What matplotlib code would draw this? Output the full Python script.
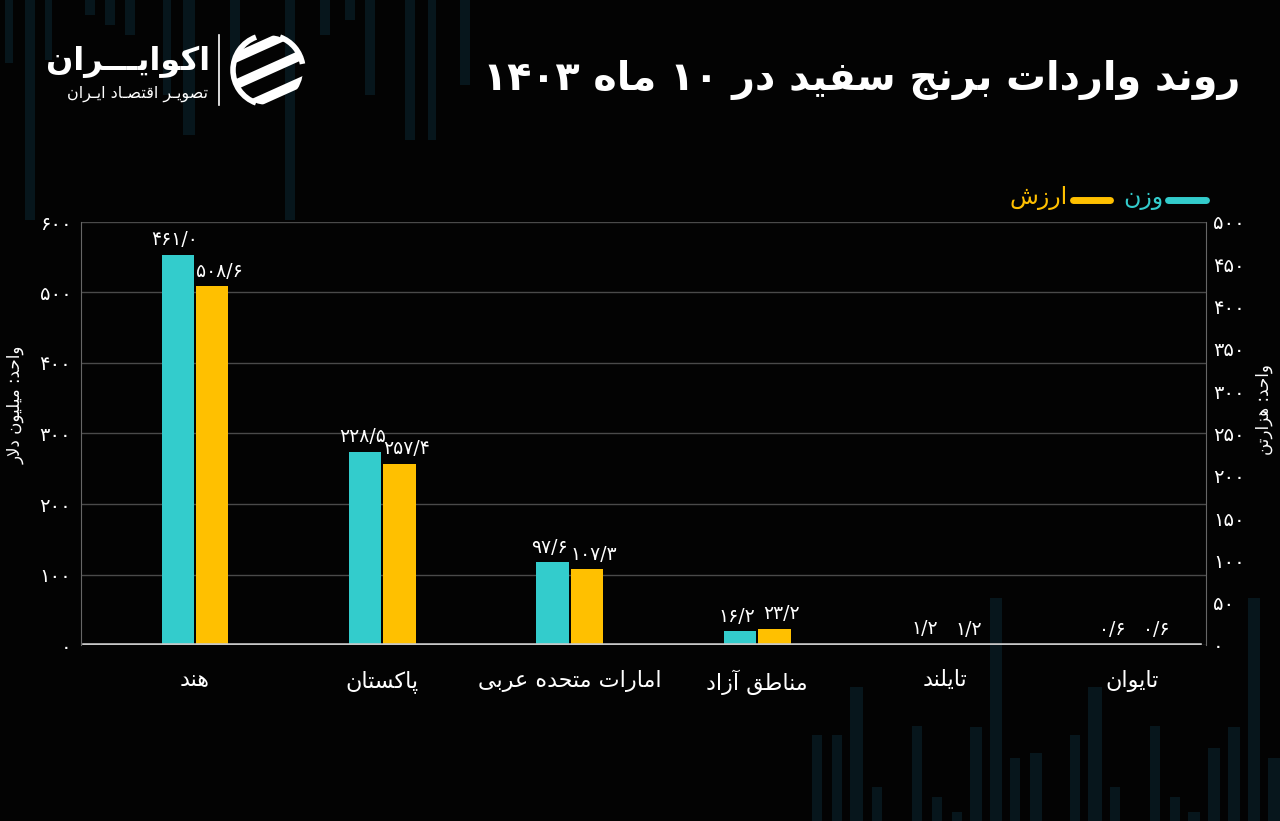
import matplotlib
matplotlib.use('Agg')
import matplotlib.pyplot as plt
from matplotlib.patches import Rectangle, Circle, Arc
import numpy as np

# ---------------- data ----------------
categories = ['هند', 'پاکستان', 'امارات متحده عربی', 'مناطق آزاد', 'تایلند', 'تایوان']
weight = [461.0, 228.5, 97.6, 16.2, 1.2, 0.6]     # هزار تن (right axis)
value = [508.6, 257.4, 107.3, 23.2, 1.2, 0.6]     # میلیون دلار (left axis)
left_ticks = [0, 100, 200, 300, 400, 500, 600]
right_ticks = [0, 50, 100, 150, 200, 250, 300, 350, 400, 450, 500]

title_text = 'روند واردات برنج سفید در 10 ماه 1403'
legend_weight = 'وزن'
legend_value = 'ارزش'
left_label = 'واحد: میلیون دلار'
right_label = 'واحد: هزارتن'
logo_main = 'اکوایـــران'
logo_sub = 'تصویـر اقتصـاد ایـران'

# decorative background stripes (pixel coords): (x, width, length)
deco_top = [(5, 8, 63), (25, 10, 220), (45, 7, 60), (85, 10, 15), (105, 10, 25),
            (125, 10, 35), (163, 8, 95), (183, 12, 135), (230, 10, 60), (285, 10, 220),
            (320, 10, 35), (345, 10, 20), (365, 10, 95), (405, 10, 140), (428, 8, 140),
            (460, 10, 85)]
deco_bot = [(812, 10, 735), (832, 10, 735), (850, 13, 687), (872, 10, 787), (912, 10, 726),
            (932, 10, 797), (952, 10, 812), (970, 12, 727), (990, 12, 598), (1010, 10, 758),
            (1030, 12, 753), (1070, 10, 735), (1088, 14, 687), (1110, 10, 787), (1150, 10, 726),
            (1170, 10, 797), (1188, 12, 812), (1208, 12, 748), (1228, 12, 727), (1248, 12, 598),
            (1268, 12, 758)]

CYAN = '#33CCCC'
GOLD = '#FFC000'
BG = '#030303'
DECO = '#07161c'

# ---------------- Arabic shaping ----------------
_F = {
    '\u0622': ('\uFE81', '\uFE82', None, None),
    '\u0627': ('\uFE8D', '\uFE8E', None, None),
    '\u0628': ('\uFE8F', '\uFE90', '\uFE91', '\uFE92'),
    '\u067E': ('\uFB56', '\uFB57', '\uFB58', '\uFB59'),
    '\u062A': ('\uFE95', '\uFE96', '\uFE97', '\uFE98'),
    '\u062B': ('\uFE99', '\uFE9A', '\uFE9B', '\uFE9C'),
    '\u062C': ('\uFE9D', '\uFE9E', '\uFE9F', '\uFEA0'),
    '\u0686': ('\uFB7A', '\uFB7B', '\uFB7C', '\uFB7D'),
    '\u062D': ('\uFEA1', '\uFEA2', '\uFEA3', '\uFEA4'),
    '\u062E': ('\uFEA5', '\uFEA6', '\uFEA7', '\uFEA8'),
    '\u062F': ('\uFEA9', '\uFEAA', None, None),
    '\u0630': ('\uFEAB', '\uFEAC', None, None),
    '\u0631': ('\uFEAD', '\uFEAE', None, None),
    '\u0632': ('\uFEAF', '\uFEB0', None, None),
    '\u0698': ('\uFB8A', '\uFB8B', None, None),
    '\u0633': ('\uFEB1', '\uFEB2', '\uFEB3', '\uFEB4'),
    '\u0634': ('\uFEB5', '\uFEB6', '\uFEB7', '\uFEB8'),
    '\u0635': ('\uFEB9', '\uFEBA', '\uFEBB', '\uFEBC'),
    '\u0636': ('\uFEBD', '\uFEBE', '\uFEBF', '\uFEC0'),
    '\u0637': ('\uFEC1', '\uFEC2', '\uFEC3', '\uFEC4'),
    '\u0638': ('\uFEC5', '\uFEC6', '\uFEC7', '\uFEC8'),
    '\u0639': ('\uFEC9', '\uFECA', '\uFECB', '\uFECC'),
    '\u063A': ('\uFECD', '\uFECE', '\uFECF', '\uFED0'),
    '\u0641': ('\uFED1', '\uFED2', '\uFED3', '\uFED4'),
    '\u0642': ('\uFED5', '\uFED6', '\uFED7', '\uFED8'),
    '\u06A9': ('\uFB8E', '\uFB8F', '\uFB90', '\uFB91'),
    '\u06AF': ('\uFB92', '\uFB93', '\uFB94', '\uFB95'),
    '\u0644': ('\uFEDD', '\uFEDE', '\uFEDF', '\uFEE0'),
    '\u0645': ('\uFEE1', '\uFEE2', '\uFEE3', '\uFEE4'),
    '\u0646': ('\uFEE5', '\uFEE6', '\uFEE7', '\uFEE8'),
    '\u0647': ('\uFEE9', '\uFEEA', '\uFEEB', '\uFEEC'),
    '\u0648': ('\uFEED', '\uFEEE', None, None),
    '\u06CC': ('\uFBFC', '\uFBFD', '\uFBFE', '\uFBFF'),
    '\u0640': ('\u0640', '\u0640', '\u0640', '\u0640'),
}
_LAMALEF = {'\u0627': ('\uFEFB', '\uFEFC'), '\u0622': ('\uFEF5', '\uFEF6')}
_DIG = str.maketrans('0123456789.', '۰۱۲۳۴۵۶۷۸۹/')
_DIGSET = set('0123456789۰۱۲۳۴۵۶۷۸۹٫./')


def _joins_next(ch):
    f = _F.get(ch)
    return f is not None and f[2] is not None


def fa(s):
    return str(s).translate(_DIG)


def shape(text):
    text = fa(text)
    chars = list(text)
    n = len(chars)
    out = []
    i = 0
    while i < n:
        c = chars[i]
        if c not in _F:
            out.append(c)
            i += 1
            continue
        prev = chars[i - 1] if i > 0 else ''
        jp = _joins_next(prev)
        if c == '\u0644' and i + 1 < n and chars[i + 1] in _LAMALEF:
            lig = _LAMALEF[chars[i + 1]]
            out.append(lig[1] if jp else lig[0])
            i += 2
            continue
        nxt = chars[i + 1] if i + 1 < n else ''
        jn = _joins_next(c) and (nxt in _F)
        f = _F[c]
        if jp and jn:
            g = f[3]
        elif jp:
            g = f[1]
        elif jn:
            g = f[2]
        else:
            g = f[0]
        out.append(g)
        i += 1
    tokens = []
    for ch in out:
        isd = ch in _DIGSET
        if tokens and tokens[-1][0] == isd:
            tokens[-1][1].append(ch)
        else:
            tokens.append([isd, [ch]])
    vis = []
    for isd, chs in reversed(tokens):
        vis.append(''.join(chs) if isd else ''.join(reversed(chs)))
    return ''.join(vis)


plt.rcParams['font.family'] = ['DejaVu Sans']

W, H = 1280, 821
fig = plt.figure(figsize=(12.8, 8.21), dpi=100, facecolor=BG)

# background axes in pixel coordinates
bg = fig.add_axes([0, 0, 1, 1], zorder=0)
bg.set_xlim(0, W)
bg.set_ylim(H, 0)
bg.axis('off')
bg.set_facecolor(BG)
for (x0, w0, ln) in deco_top:
    bg.add_patch(Rectangle((x0, 0), w0, ln, color=DECO, lw=0, zorder=0))
for (x0, w0, top) in deco_bot:
    bg.add_patch(Rectangle((x0, top), w0, H - top, color=DECO, lw=0, zorder=0))

# title
bg.text(1240, 80, shape(title_text), color='white', fontsize=28.5, fontweight='bold',
        ha='right', va='center')

# logo
bg.text(210, 62, shape(logo_main), color='white', fontsize=23, fontweight='bold',
        ha='right', va='center')
bg.text(208, 94, shape(logo_sub), color='white', fontsize=11.5, ha='right', va='center')
bg.plot([219, 219], [35, 105], color='white', lw=1.2)
icx, icy, r = 268, 70, 35
circ = Circle((icx, icy), r, transform=bg.transData)
bg.add_patch(Arc((icx, icy), 2 * r, 2 * r, theta1=110, theta2=250, color='white', lw=4))
bg.add_patch(Arc((icx, icy), 2 * r, 2 * r, theta1=290, theta2=350, color='white', lw=4))
for k, o in enumerate([-22, 0, 22]):
    ln, = bg.plot([icx - 40 + o * 0.5, icx + 40 + o * 0.5],
                  [icy + 18 + o, icy - 18 + o], color='white', lw=7,
                  solid_capstyle='butt')
    ln.set_clip_path(circ)

# legend (RTL)
bg.plot([1168, 1206], [200, 200], color=CYAN, lw=5, solid_capstyle='round')
bg.text(1163, 198, shape(legend_weight), color=CYAN, fontsize=17, ha='right', va='center')
bg.plot([1073, 1110], [200, 200], color=GOLD, lw=5, solid_capstyle='round')
bg.text(1068, 198, shape(legend_value), color=GOLD, fontsize=17, ha='right', va='center')

# axis unit labels
bg.text(16, 405, shape(left_label), color='white', fontsize=12, rotation=90,
        ha='center', va='center')
bg.text(1264, 410, shape(right_label), color='white', fontsize=12, rotation=90,
        ha='center', va='center')

# main axes
ax = fig.add_axes([81 / W, 1 - 645 / H, (1206 - 81) / W, (645 - 222) / H], zorder=2)
ax.set_facecolor('none')
ax2 = ax.twinx()
ax2.set_facecolor('none')

x = np.arange(len(categories))
bw = 0.172
off = 0.092
ax.bar(x + off, value, width=bw, color=GOLD, zorder=3)
ax2.bar(x - off, weight, width=bw, color=CYAN, zorder=3)

ax.set_xlim(-0.608, 5.395)
ax.set_ylim(0, 600)
ax2.set_ylim(0, 500)

ax.set_yticks(left_ticks)
ax.set_yticklabels([fa(t) for t in left_ticks])
ax2.set_yticks(right_ticks)
ax2.set_yticklabels([fa(t) for t in right_ticks])
ax.tick_params(axis='y', length=0, pad=7, labelcolor='white', labelsize=14)
ax2.tick_params(axis='y', length=0, pad=5, labelcolor='white', labelsize=14)
ax.set_xticks(x)
ax.set_xticklabels([shape(c) for c in categories])
ax.tick_params(axis='x', length=0, pad=18, labelcolor='white', labelsize=16)

ax.yaxis.grid(True, color='#4a4a4a', lw=1)
ax.set_axisbelow(True)
for s in ['top', 'bottom']:
    ax.spines[s].set_visible(False)
for s in ['left', 'right']:
    ax.spines[s].set_color('#666666')
    ax.spines[s].set_linewidth(0.8)
for s in ax2.spines.values():
    s.set_visible(False)

ax2.axhline(0, xmin=0.003, xmax=0.995, color='#c8c8c8', lw=2.6, zorder=6)

for xi, v in zip(x, weight):
    ax2.annotate(fa(f'{v:.1f}'), (xi - off, v), xytext=(-2, 4), textcoords='offset points',
                 ha='center', va='bottom', color='white', fontsize=13.5, zorder=7)
for xi, v in zip(x, value):
    ax.annotate(fa(f'{v:.1f}'), (xi + off, v), xytext=(5, 4), textcoords='offset points',
                ha='center', va='bottom', color='white', fontsize=13.5, zorder=7)

fig.savefig('out.png', dpi=100, facecolor=BG)
